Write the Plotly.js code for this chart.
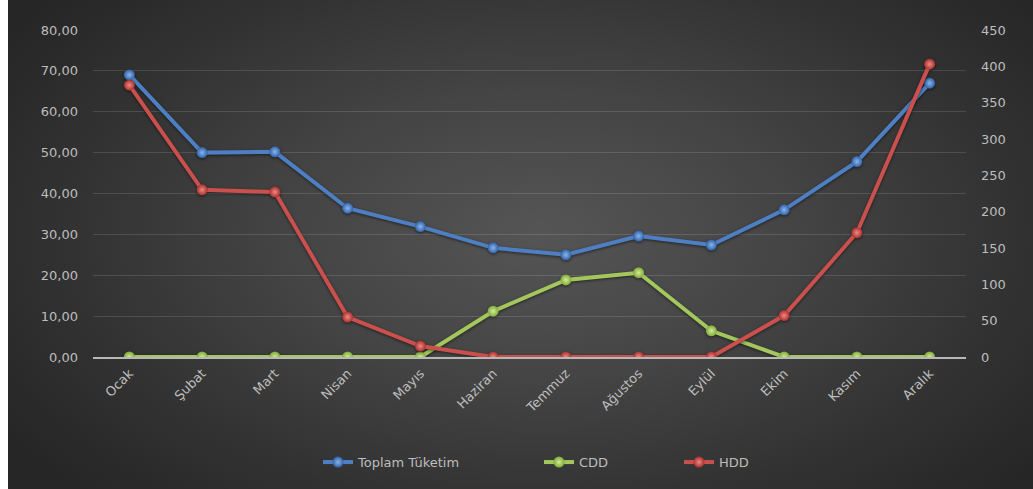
<!DOCTYPE html>
<html>
<head>
<meta charset="utf-8">
<script src="https://cdn.plot.ly/plotly-3.0.1.min.js"></script>
<style>
  html, body { margin: 0; padding: 0; background: #ffffff; }
  #wrap { position: relative; width: 1033px; height: 489px; overflow: hidden; }
  #bg {
    position: absolute; left: 8px; top: 0; width: 1025px; height: 489px;
    background: radial-gradient(ellipse 62% 75% at 52% 48%, #555555 0%, #444444 40%, #333333 72%, #262626 100%);
  }
  #chart { position: absolute; left: 0; top: 0; width: 1033px; height: 489px; }
  #chart .scatterlayer .trace { filter: drop-shadow(0px 1px 1.5px rgba(0,0,0,0.55)); }
</style>
</head>
<body>
<div id="wrap">
  <div id="bg"></div>
  <div id="chart"></div>
</div>
<script>
// Monthly consumption with cooling / heating degree days
const months = ['Ocak', 'Şubat', 'Mart', 'Nisan', 'Mayıs', 'Haziran',
                'Temmuz', 'Ağustos', 'Eylül', 'Ekim', 'Kasım', 'Aralık'];
const toplamTuketim = [69.0, 50.0, 50.2, 36.4, 31.9, 26.7, 25.0, 29.6, 27.4, 36.0, 47.8, 67.0];
const cdd = [0, 0, 0, 0, 0, 63, 106, 116, 36, 0, 0, 0];
const hdd = [374, 230, 227, 55, 15, 0, 0, 0, 0, 57, 171, 403];

const leftTicks = [0, 10, 20, 30, 40, 50, 60, 70, 80];
const rightTicks = [0, 50, 100, 150, 200, 250, 300, 350, 400, 450];

function series(name, y, axis, lineColor, edgeColor, centerColor, legendId) {
  return {
    type: 'scatter',
    mode: 'lines+markers',
    name: name,
    x: months,
    y: y,
    yaxis: axis,
    legend: legendId,
    line: { color: lineColor, width: 4 },
    marker: {
      size: 11,
      color: edgeColor,
      gradient: { type: 'radial', color: centerColor },
      line: { width: 0 }
    },
    hoverinfo: 'x+y+name'
  };
}

const traces = [
  series('Toplam Tüketim', toplamTuketim, 'y', '#4d7fc2', '#2f62a8', '#8db4ea', 'legend'),
  series('CDD', cdd, 'y2', '#a3c75c', '#7fa83a', '#d4ec96', 'legend2'),
  series('HDD', hdd, 'y2', '#c9504d', '#a8302e', '#ef8a84', 'legend3')
];

const legendBase = {
  orientation: 'h',
  xref: 'container', yref: 'container',
  xanchor: 'left', yanchor: 'middle',
  y: 0.055,
  bgcolor: 'rgba(0,0,0,0)',
  font: { family: 'DejaVu Sans', size: 13, color: '#bdbdbd' }
};

const layout = {
  width: 1033,
  height: 489,
  margin: { l: 93, r: 67, t: 30, b: 132 },
  paper_bgcolor: 'rgba(0,0,0,0)',
  plot_bgcolor: 'rgba(0,0,0,0)',
  separators: ',.',
  font: { family: 'DejaVu Sans', size: 13, color: '#bdbdbd' },
  showlegend: true,
  legend: Object.assign({}, legendBase, { x: 318 / 1033 }),
  legend2: Object.assign({}, legendBase, { x: 539 / 1033 }),
  legend3: Object.assign({}, legendBase, { x: 679 / 1033 }),
  xaxis: {
    type: 'category',
    range: [-0.5, 11.5],
    tickangle: -45,
    showgrid: false,
    zeroline: false,
    showline: true,
    linecolor: '#b8b8b8',
    linewidth: 1.5,
    ticks: '',
    ticklabelstandoff: 2,
    tickfont: { family: 'DejaVu Sans', size: 13, color: '#bdbdbd' },
    fixedrange: true
  },
  yaxis: {
    range: [0, 80],
    tickvals: leftTicks,
    tickformat: '.2f',
    showgrid: true,
    gridcolor: 'rgba(255,255,255,0.13)',
    gridwidth: 1,
    zeroline: false,
    showline: false,
    ticks: '',
    ticklabelstandoff: 14,
    tickfont: { family: 'DejaVu Sans', size: 13, color: '#bdbdbd' },
    fixedrange: true
  },
  yaxis2: {
    overlaying: 'y',
    side: 'right',
    range: [0, 450],
    tickvals: rightTicks,
    tickformat: 'd',
    showgrid: false,
    zeroline: false,
    showline: false,
    ticks: '',
    ticklabelstandoff: 14,
    tickfont: { family: 'DejaVu Sans', size: 13, color: '#bdbdbd' },
    fixedrange: true
  }
};

Plotly.newPlot('chart', traces, layout, { displayModeBar: false, staticPlot: false });
</script>
</body>
</html>
